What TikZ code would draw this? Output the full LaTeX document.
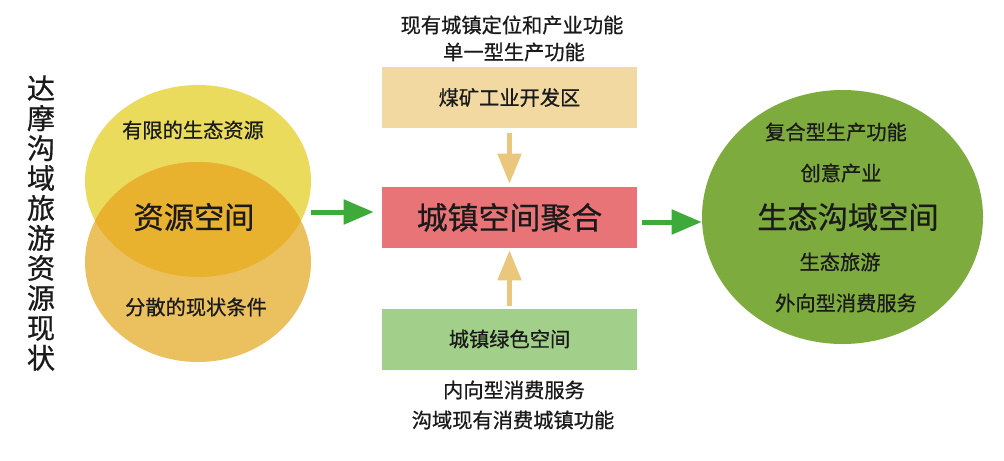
\documentclass[tikz,border=0pt]{standalone}
\usepackage{fontspec}
\setmainfont{Noto Sans CJK SC}[FakeBold=0.7]
\usetikzlibrary{arrows.meta,shapes.geometric}
\definecolor{cyellow}{HTML}{EADB5C}
\definecolor{corange}{HTML}{EBC05E}
\definecolor{coverlap}{HTML}{E8B12E}
\definecolor{ctan}{HTML}{F2D9A2}
\definecolor{cred}{HTML}{E87478}
\definecolor{clgreen}{HTML}{A2D08A}
\definecolor{cdgreen}{HTML}{7EAB3E}
\definecolor{carrowg}{HTML}{3DAA3A}
\definecolor{carrowt}{HTML}{EAC77C}
\definecolor{ctext}{HTML}{1A1A1A}
\tikzset{
  txt/.style={inner sep=0pt, text=ctext, font=\fontsize{14.4pt}{16pt}\selectfont},
  bigtxt/.style={inner sep=0pt, text=ctext, font=\fontsize{21.5pt}{24pt}\selectfont},
  boxnode/.style={minimum width=255*0.025cm, minimum height=61*0.025cm, inner sep=0pt},
  garrow/.style={draw=carrowg, line width=5*0.025cm, -{Triangle[length=30*0.025cm, width=24*0.025cm]}},
  tarrow/.style={draw=carrowt, line width=5*0.025cm, -{Triangle[length=30*0.025cm, width=23*0.025cm]}},
}
\begin{document}
\begin{tikzpicture}[x=0.025cm, y=-0.025cm]
\useasboundingbox (0,0) rectangle (1004,460);
\fill[white] (0,0) rectangle (1004,460);
% venn
\fill[cyellow] (198,181) ellipse [x radius=113, y radius=96];
\fill[corange] (198,262) ellipse [x radius=113, y radius=100];
\begin{scope}
  \clip (198,181) ellipse [x radius=113, y radius=96];
  \fill[coverlap] (198,262) ellipse [x radius=113, y radius=100];
\end{scope}
\coordinate (venn) at (311,212);
% title
\node[inner sep=0pt, text=ctext, font=\fontsize{20pt}{21.3pt}\selectfont, align=center] (title) at (41,223) {达\\摩\\沟\\域\\旅\\游\\资\\源\\现\\状};
\node[txt] (t1) at (193,130) {有限的生态资源};
\node[bigtxt] (t2) at (194,217) {资源空间};
\node[txt] (t3) at (196,307) {分散的现状条件};
% center column
\node[txt] (top1) at (512,25) {现有城镇定位和产业功能};
\node[txt] (top2) at (514,52) {单一型生产功能};
\node[boxnode, fill=ctan] (b1) at (509.5,97.5) {};
\node[txt] at (b1.center) {煤矿工业开发区};
\node[boxnode, fill=cred] (b2) at (509.5,217.5) {};
\node[bigtxt, font=\fontsize{22pt}{24pt}\selectfont] at (b2.center) {城镇空间聚合};
\node[boxnode, fill=clgreen] (b3) at (509.5,339) {};
\node[txt] at (b3.center) {城镇绿色空间};
\node[txt] (bot1) at (514,390) {内向型消费服务};
\node[txt] (bot2) at (513,420) {沟域现有消费城镇功能};
% right circle
\node[ellipse, fill=cdgreen, minimum width=281*0.025cm, minimum height=254*0.025cm, inner sep=0pt] (eco) at (842.5,217) {};
\node[txt] (r1) at (836,132) {复合型生产功能};
\node[txt] (r2) at (841,173) {创意产业};
\node[bigtxt] (r3) at (848,217) {生态沟域空间};
\node[txt] (r4) at (840,262) {生态旅游};
\node[txt] (r5) at (846,303) {外向型消费服务};
% arrows
\coordinate (a2) at (642,222);
\draw[garrow] (venn) -- ([xshift=-8*0.025cm]venn -| b2.west);
\draw[garrow] (a2) -- (a2 -| eco.west);
\draw[tarrow] ([yshift=-5*0.025cm]b1.south) -- ([yshift=3*0.025cm]b2.north);
\draw[tarrow] ([yshift=2*0.025cm]b3.north) -- ([yshift=-2*0.025cm]b2.south);
\end{tikzpicture}
\end{document}
